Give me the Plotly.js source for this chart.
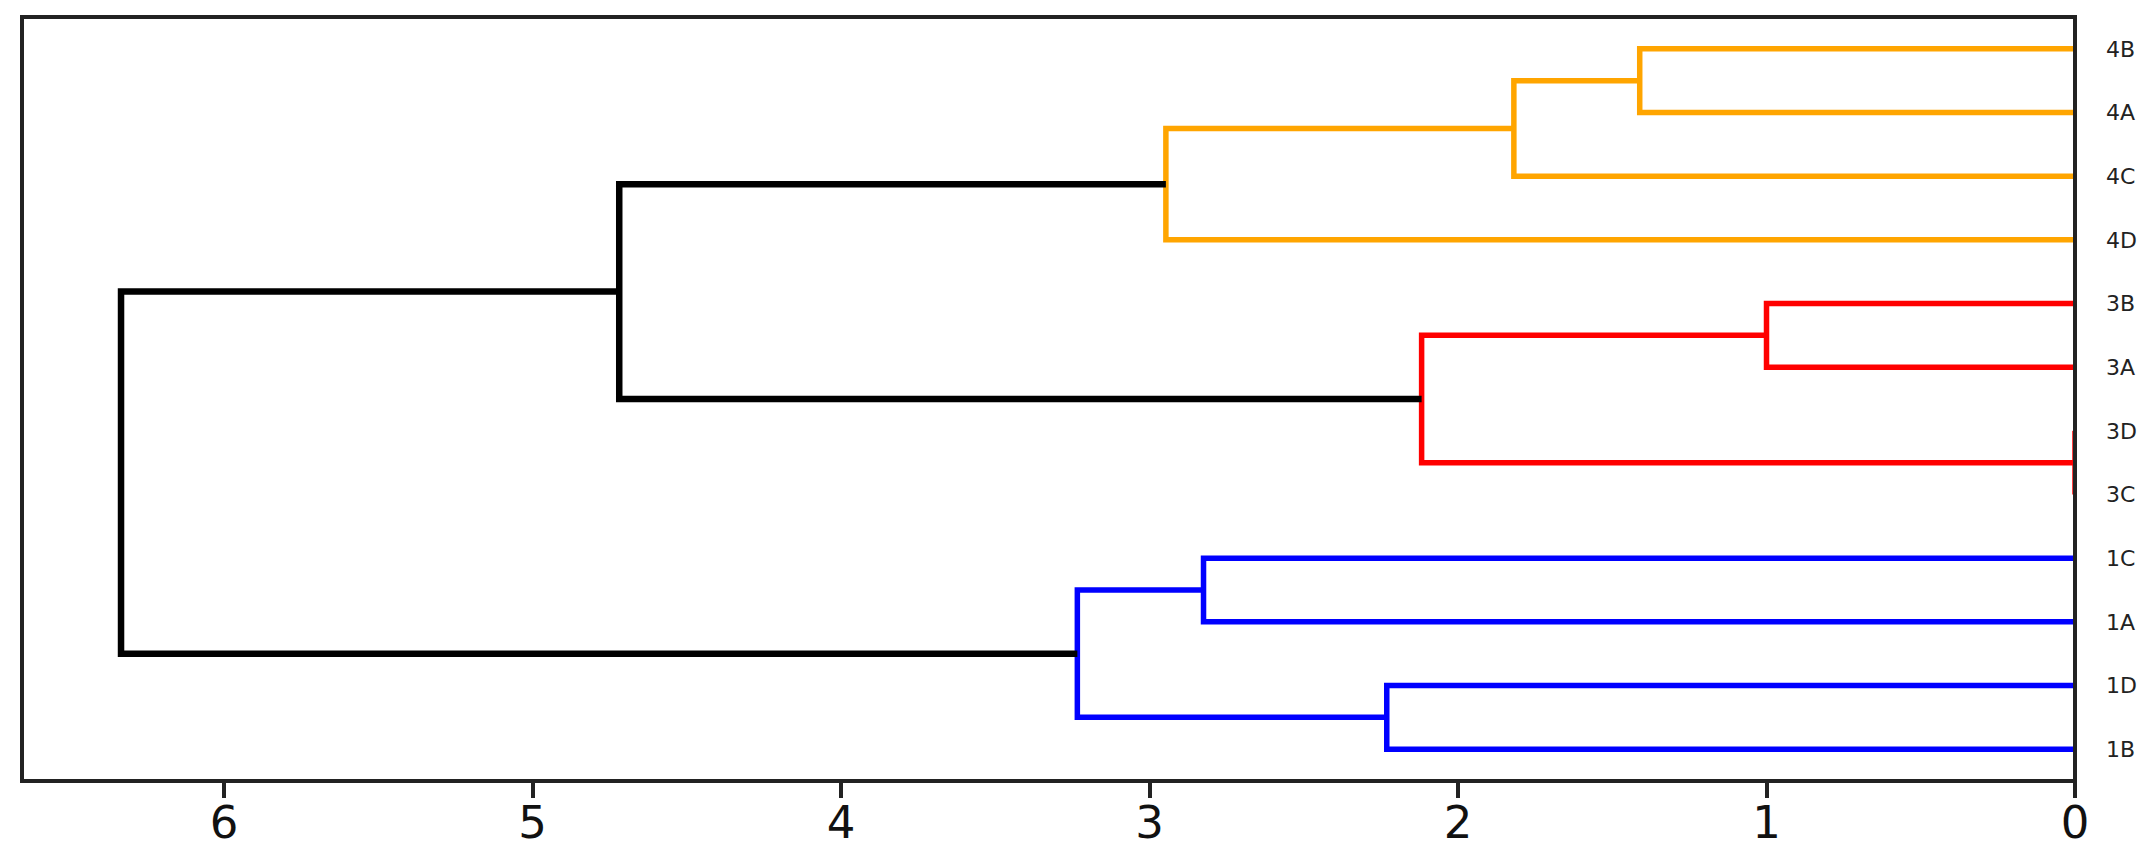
<!DOCTYPE html>
<html>
<head>
<meta charset="utf-8">
<script src="https://cdn.plot.ly/plotly-3.0.1.min.js"></script>
<style>html,body{margin:0;padding:0;background:#fff;}</style>
</head>
<body>
<div id="chart" style="width:2145px;height:853px;"></div>
<script>
// Leaves in order from bottom to top
const leafLabels = ['1B','1D','1A','1C','3C','3D','3A','3B','4D','4C','4A','4B'];
// Merges (linkage)
const mergeNames  = ['m0','m1','m2','m3','m4','m5','m6','m7','m8','m9','m10'];
const mergeChildA = ['1B','1A','m0','3C','3A','m3','4A','m6','4D','m5','m2'];
const mergeChildB = ['1D','1C','m1','3D','3B','m4','4B','4C','m7','m8','m9'];
const mergeHeight = [2.231, 2.825, 3.234, 0.0, 1.0, 2.118, 1.411, 1.819, 2.947, 4.719, 6.334];
const mergeColor  = ['#0000ff','#0000ff','#0000ff','#ff0000','#ff0000','#ff0000','#ffa500','#ffa500','#ffa500','#000000','#000000'];
const xTicks = [0,1,2,3,4,5,6];

const pos = {}, hgt = {};
leafLabels.forEach((l,i)=>{ pos[l] = 5 + 10*i; hgt[l] = 0; });
const traces = [];
mergeNames.forEach((m,i)=>{
  const a = mergeChildA[i], b = mergeChildB[i], h = mergeHeight[i];
  pos[m] = (pos[a] + pos[b]) / 2; hgt[m] = h;
  const black = mergeColor[i] === '#000000';
  traces.push({
    type:'scatter', mode:'lines',
    x:[hgt[a], h, h, hgt[b]],
    y:[pos[a], pos[a], pos[b], pos[b]],
    line:{color:mergeColor[i], width: black ? 6.5 : 5.5},
    hoverinfo:'skip', showlegend:false
  });
});

const layout = {
  width:2145, height:853,
  margin:{l:22, r:70, t:17, b:72, pad:0},
  paper_bgcolor:'#fff', plot_bgcolor:'#fff',
  showlegend:false,
  xaxis:{
    range:[6.655, 0], tickvals:xTicks, ticktext:xTicks.map(String),
    showgrid:false, zeroline:false, showline:false,
    ticks:'outside', ticklen:16, tickwidth:4, tickcolor:'#222',
    ticklabelstandoff:-14,
    tickfont:{family:'DejaVu Sans', size:45, color:'#111'}
  },
  yaxis:{
    side:'right', range:[0,120],
    tickvals:leafLabels.map(l=>pos[l]), ticktext:leafLabels,
    showgrid:false, zeroline:false, showline:false,
    ticks:'', ticklabelstandoff:30,
    tickfont:{family:'DejaVu Sans', size:22, color:'#222'}
  },
  shapes:[{type:'rect', xref:'paper', yref:'paper', x0:0, x1:1, y0:0, y1:1,
           line:{color:'#222', width:4}, fillcolor:'rgba(0,0,0,0)', layer:'above'}]
};
Plotly.newPlot('chart', traces, layout, {staticPlot:true, displayModeBar:false});
</script>
</body>
</html>
